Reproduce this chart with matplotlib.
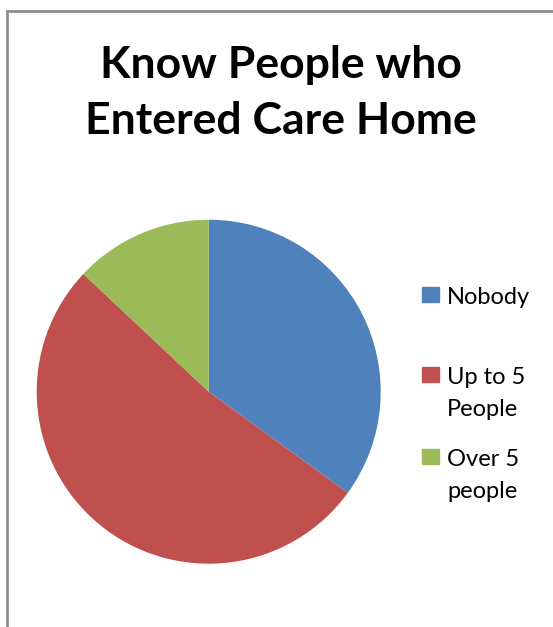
import matplotlib.pyplot as plt
from matplotlib.patches import Rectangle
from matplotlib.lines import Line2D

W, H = 553, 627

labels = ["Nobody", "Up to 5\nPeople", "Over 5\npeople"]
values = [35, 52, 13]
colors = ["#4F81BD", "#C0504D", "#9BBB59"]
title = "Know People who\nEntered Care Home"

plt.rcParams['font.family'] = ['Lato', 'DejaVu Sans']

fig = plt.figure(figsize=(W / 100, H / 100), dpi=100)

def fx(x):
    return x / W

def fy(y):
    return 1 - y / H

# pie, centre ~ (208.7, 391.7) radius ~172 px
cx, cy, r = 208.7, 391.7, 172
ax = fig.add_axes([fx(cx - r), fy(cy + r), 2 * r / W, 2 * r / H])
ax.pie(values, colors=colors, startangle=90, counterclock=False,
       wedgeprops=dict(linewidth=0))
ax.set_xlim(-1, 1)
ax.set_ylim(-1, 1)
ax.set_aspect('auto')
ax.axis('off')

# title
fig.text(fx(281), fy(45), title, ha='center', va='top',
         fontsize=32, fontweight='bold', linespacing=1.5)

# legend drawn by hand so the swatch sits on the first line
leg_tops = [288, 368, 450]
for lab, col, top in zip(labels, colors, leg_tops):
    fig.add_artist(Rectangle((fx(422), fy(top + 14)), 17 / W, 15 / H,
                             transform=fig.transFigure, color=col))
    fig.text(fx(447), fy(top - 1), lab, ha='left', va='top',
             fontsize=17, linespacing=1.65)

# grey frame (top and left visible)
fig.add_artist(Line2D([fx(7), 1], [fy(11), fy(11)], transform=fig.transFigure,
                      color='#8c8c8c', linewidth=2))
fig.add_artist(Line2D([fx(7), fx(7)], [fy(11), 0], transform=fig.transFigure,
                      color='#8c8c8c', linewidth=2))

fig.savefig("out.png", dpi=100)
